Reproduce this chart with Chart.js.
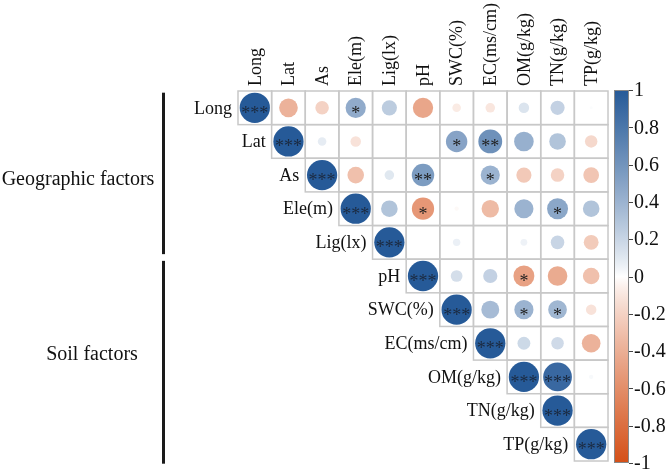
<!DOCTYPE html>
<html>
<head>
<meta charset="utf-8">
<script src="https://cdn.jsdelivr.net/npm/chart.js@4.4.1/dist/chart.umd.min.js"></script>
<style>html,body{margin:0;padding:0;background:#fff}</style>
</head>
<body>
<canvas id="corrChart" width="669" height="469"></canvas>
<script>
'use strict';
// variables of the correlation matrix (rows = columns)
var vars = ['Long', 'Lat', 'As', 'Ele(m)', 'Lig(lx)', 'pH', 'SWC(%)', 'EC(ms/cm)', 'OM(g/kg)', 'TN(g/kg)', 'TP(g/kg)'];
// upper triangle, every row starts at its diagonal cell
var rLong = [1, -0.38, -0.2, 0.45, 0.25, -0.45, -0.08, -0.1, 0.12, 0.22, 0.01];
var rLat = [1, 0.08, -0.12, 0, 0, 0.5, 0.62, 0.42, 0.3, -0.17];
var rAs = [1, -0.3, 0.1, 0.55, 0, 0.4, -0.25, -0.2, -0.27];
var rEle = [1, 0.3, -0.54, -0.02, -0.33, 0.4, 0.48, 0.3];
var rLig = [1, 0, 0.06, 0, 0.05, 0.2, -0.24];
var rPH = [1, 0.15, 0.22, -0.48, -0.42, -0.3];
var rSWC = [1, 0.35, 0.4, 0.38, -0.12];
var rEC = [1, 0.18, 0.17, -0.38];
var rOM = [1, 0.9, 0.02];
var rTN = [1, 0];
var rTP = [1];
// significance marks, same layout
var sLong = ['***', '', '', '*', '', '', '', '', '', '', ''];
var sLat = ['***', '', '', '', '', '*', '**', '', '', ''];
var sAs = ['***', '', '', '**', '', '*', '', '', ''];
var sEle = ['***', '', '*', '', '', '', '*', ''];
var sLig = ['***', '', '', '', '', '', ''];
var sPH = ['***', '', '', '*', '', ''];
var sSWC = ['***', '', '*', '*', ''];
var sEC = ['***', '', '', ''];
var sOM = ['***', '***', ''];
var sTN = ['***', ''];
var sTP = ['***'];
var corrRows = [rLong, rLat, rAs, rEle, rLig, rPH, rSWC, rEC, rOM, rTN, rTP];
var starRows = [sLong, sLat, sAs, sEle, sLig, sPH, sSWC, sEC, sOM, sTN, sTP];
// colour bar
var cbTicks = [1, 0.8, 0.6, 0.4, 0.2, 0, -0.2, -0.4, -0.6, -0.8, -1];
var cbLabels = ['1', '0.8', '0.6', '0.4', '0.2', '0', '-0.2', '-0.4', '-0.6', '-0.8', '-1'];
// factor groups (row ranges)
var groupNames = ['Geographic factors', 'Soil factors'];
var groupFrom = [0.05, 5.05];
var groupTo = [4.85, 11.08];
var groupLabelAt = [2.65, 7.85];

var SERIF = '"Liberation Serif", "Times New Roman", serif';
var POS = [38, 90, 152], NEG = [212, 80, 24];

function col(v)
{
    var e = v >= 0 ? POS : NEG, a = Math.pow(Math.min(1, Math.abs(v)), 0.85);
    return 'rgb(' + Math.round(255 - (255 - e[0]) * a) + ',' + Math.round(255 - (255 - e[1]) * a) + ',' + Math.round(255 - (255 - e[2]) * a) + ')';
}

var points = [], vals = [], marks = [];
corrRows.forEach(function (row, i) {
    row.forEach(function (v, k) {
        points.push({ x: i + k + 0.5, y: i + 0.5 });
        vals.push(v);
        marks.push(starRows[i][k]);
    });
});

function cellSize(chart)
{
    var xs = chart.scales.x;
    return xs.getPixelForValue(1) - xs.getPixelForValue(0);
}

var decor = {
    id: 'decor',
    beforeDatasetsDraw: function (chart) {
        var c = chart.ctx, xs = chart.scales.x, ys = chart.scales.y, a = chart.chartArea;
        var n = vars.length, i, j;
        c.save();
        // cell borders of the upper triangle
        c.strokeStyle = '#c8c8c8';
        c.lineWidth = 1.5;
        for (i = 0; i < n; i++) {
            for (j = i; j < n; j++) {
                var x0 = xs.getPixelForValue(j), x1 = xs.getPixelForValue(j + 1);
                var y0 = ys.getPixelForValue(i), y1 = ys.getPixelForValue(i + 1);
                c.strokeRect(x0, y0, x1 - x0, y1 - y0);
            }
        }
        c.fillStyle = '#111';
        c.font = '18px ' + SERIF;
        // column labels
        c.textAlign = 'left';
        c.textBaseline = 'middle';
        for (j = 0; j < n; j++) {
            c.save();
            c.translate(xs.getPixelForValue(j + 0.5) + 1, a.top - 5);
            c.rotate(-Math.PI / 2);
            c.fillText(vars[j], 0, 0);
            c.restore();
        }
        // row labels
        c.textAlign = 'right';
        for (i = 0; i < n; i++) {
            c.fillText(vars[i], xs.getPixelForValue(i) - 6, ys.getPixelForValue(i + 0.5) + 1);
        }
        // groups
        c.fillStyle = '#1a1a1a';
        for (i = 0; i < groupNames.length; i++) {
            var g0 = ys.getPixelForValue(groupFrom[i]), g1 = ys.getPixelForValue(groupTo[i]);
            c.fillRect(162, g0, 3, g1 - g0);
        }
        c.fillStyle = '#111';
        c.font = '20px ' + SERIF;
        c.textAlign = 'center';
        c.fillText(groupNames[0], 78, ys.getPixelForValue(groupLabelAt[0]));
        c.fillText(groupNames[1], 92, ys.getPixelForValue(groupLabelAt[1]));
        // colour bar
        var bx = a.right + 6, bw = 15, top = a.top - 1, bot = a.bottom + 2;
        var grad = c.createLinearGradient(0, top, 0, bot);
        for (var t = 0; t <= 40; t++) {
            grad.addColorStop(t / 40, col(1 - t / 20));
        }
        c.fillStyle = grad;
        c.fillRect(bx, top, bw, bot - top);
        c.strokeStyle = '#888';
        c.lineWidth = 1;
        c.strokeRect(bx + 0.5, top + 0.5, bw - 1, bot - top - 1);
        c.strokeStyle = '#444';
        c.fillStyle = '#111';
        c.textAlign = 'left';
        cbTicks.forEach(function (v, k) {
            var yy = top + (1 - v) / 2 * (bot - top);
            c.beginPath();
            c.moveTo(bx + bw, Math.round(yy) + 0.5);
            c.lineTo(bx + bw + 4, Math.round(yy) + 0.5);
            c.stroke();
            c.fillText(cbLabels[k], bx + bw + 5, yy + 1);
        });
        c.restore();
    },
    afterDatasetsDraw: function (chart) {
        var c = chart.ctx, meta = chart.getDatasetMeta(0);
        c.save();
        c.font = '18px ' + SERIF;
        c.textAlign = 'center';
        c.textBaseline = 'alphabetic';
        meta.data.forEach(function (el, k) {
            if (!marks[k]) {
                return;
            }
            c.fillStyle = Math.abs(vals[k]) > 0.8 ? '#1b2a40' : '#222';
            c.fillText(marks[k], el.x, el.y + 11);
        });
        c.restore();
    }
};

new Chart(document.getElementById('corrChart').getContext('2d'), {
    type: 'scatter',
    data: {
        datasets: [{
            data: points,
            showLine: false,
            pointBorderWidth: 0,
            pointBackgroundColor: function (ctx) {
                return col(vals[ctx.dataIndex] || 0);
            },
            pointBorderColor: 'rgba(0,0,0,0)',
            pointRadius: function (ctx) {
                return 0.45 * cellSize(ctx.chart) * Math.sqrt(Math.abs(vals[ctx.dataIndex] || 0));
            }
        }]
    },
    options: {
        responsive: false,
        animation: false,
        events: [],
        layout: { padding: { left: 238, right: 61, top: 91, bottom: 8 } },
        scales: {
            x: { type: 'linear', min: 0, max: 11, display: false },
            y: { type: 'linear', min: 0, max: 11, reverse: true, display: false }
        },
        plugins: { legend: { display: false }, tooltip: { enabled: false } }
    },
    plugins: [decor]
});
</script>
</body>
</html>
